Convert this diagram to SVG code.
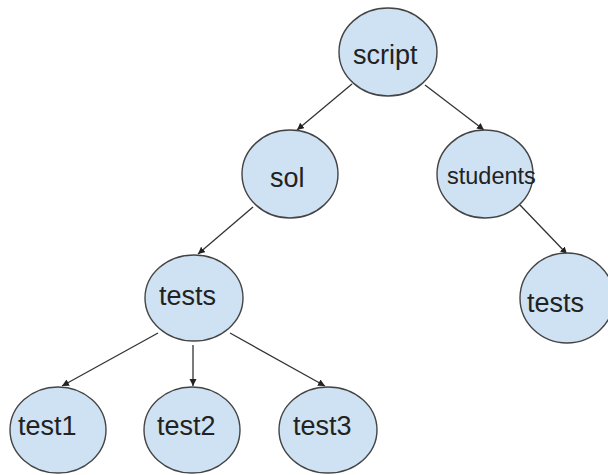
<svg xmlns="http://www.w3.org/2000/svg" width="608" height="475" viewBox="0 0 608 475">
<defs>
<style>
.node ellipse{fill:#cfe2f3;stroke:#444;stroke-width:1.4}
.node text{font-family:"Liberation Sans",Arial,sans-serif;font-size:27px;fill:#222}
.edge{stroke:#333;stroke-width:1.3;fill:none;marker-end:url(#arr)}
</style>
<marker id="arr" markerUnits="userSpaceOnUse" markerWidth="8" markerHeight="8" refX="7" refY="3.5" orient="auto">
<path d="M0,0 L7,3.5 L0,7 z" fill="#222"/>
</marker>
</defs>
<rect width="608" height="475" fill="#fff"/>
<g id="connectors">
<line class="edge" x1="352" y1="84" x2="297" y2="130"/>
<line class="edge" x1="425" y1="85" x2="484" y2="130"/>
<line class="edge" x1="253" y1="207" x2="198" y2="254"/>
<line class="edge" x1="520" y1="205" x2="567" y2="254"/>
<line class="edge" x1="158" y1="333" x2="62" y2="386"/>
<line class="edge" x1="193" y1="345" x2="193" y2="386"/>
<line class="edge" x1="230" y1="333" x2="325" y2="386"/>
</g>
<g id="script" class="node"><ellipse cx="388" cy="52" rx="49" ry="44"/><text x="353" y="64">script</text></g>
<g id="sol" class="node"><ellipse cx="290" cy="174" rx="48" ry="44"/><text x="270" y="187">sol</text></g>
<g id="students" class="node"><ellipse cx="485" cy="174" rx="48" ry="44"/><text x="447" y="184" style="font-size:23.5px">students</text></g>
<g id="tests" class="node"><ellipse cx="194" cy="298" rx="49" ry="43"/><text x="159" y="305">tests</text></g>
<g id="tests2" class="node"><ellipse cx="567" cy="298" rx="47" ry="45"/><text x="527" y="312">tests</text></g>
<g id="test1" class="node"><ellipse cx="58" cy="430" rx="48" ry="43"/><text x="18" y="435">test1</text></g>
<g id="test2" class="node"><ellipse cx="192" cy="430" rx="48" ry="43"/><text x="157" y="435">test2</text></g>
<g id="test3" class="node"><ellipse cx="328" cy="430" rx="49" ry="43"/><text x="293" y="435">test3</text></g>
</svg>
